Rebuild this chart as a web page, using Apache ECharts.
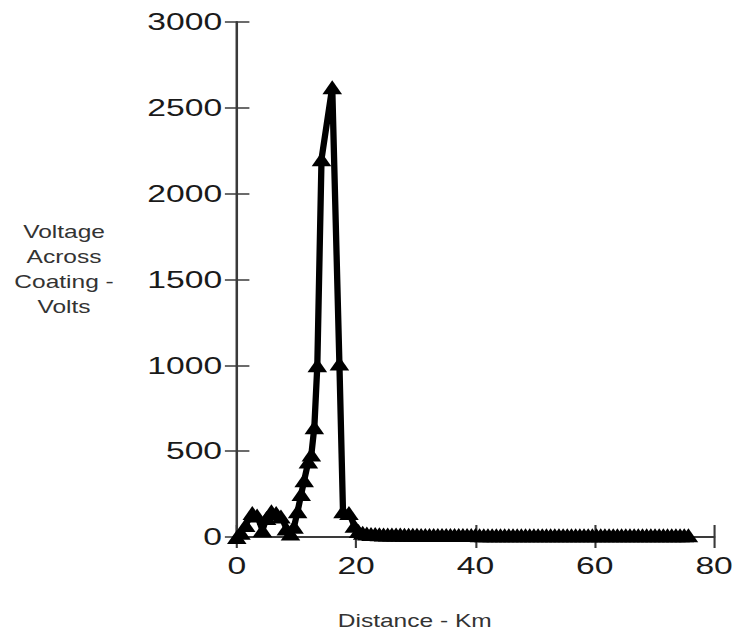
<!DOCTYPE html>
<html>
<head>
<meta charset="utf-8">
<script src="https://cdn.jsdelivr.net/npm/echarts@6/dist/echarts.min.js"></script>
<style>
  html, body { margin: 0; padding: 0; background: #fff; overflow: hidden; }
  /* the plot is laid out narrow and widened horizontally */
  #chart { width: 526px; height: 634px; transform: scaleX(1.4011); transform-origin: 0 0; }
</style>
</head>
<body>
<div id="chart"></div>
<script>
// Distance along the line (km) and the voltage across the coating (V)
const distanceKm = [
  0, 0.7, 1.5, 2.6, 3.4, 4.3, 5.0, 5.8, 6.6, 7.4, 8.3, 9.0, 9.6, 10.2, 10.8, 11.3,
  12.0, 12.5, 13.0, 13.5, 14.2, 16.0, 17.2, 17.8, 18.8, 19.7, 20.4, 21.1,
  21.8, 22.5, 23.2, 23.9, 24.6, 25.3, 26.0, 26.7, 27.4, 28.1, 28.8, 29.5, 30.2, 30.9,
  31.6, 32.3, 33.0, 33.7, 34.4, 35.1, 35.8, 36.5, 37.2, 37.9, 38.6, 39.3, 40.0, 40.7,
  41.4, 42.1, 42.8, 43.5, 44.2, 44.9, 45.6, 46.3, 47.0, 47.7, 48.4, 49.1, 49.8, 50.5,
  51.2, 51.9, 52.6, 53.3, 54.0, 54.7, 55.4, 56.1, 56.8, 57.5, 58.2, 58.9, 59.6, 60.3,
  61.0, 61.7, 62.4, 63.1, 63.8, 64.5, 65.2, 65.9, 66.6, 67.3, 68.0, 68.7, 69.4, 70.1,
  70.8, 71.5, 72.2, 72.9, 73.6, 74.3, 75.0, 75.7
];
const voltage = [
  0, 25, 70, 140, 125, 40, 110, 150, 140, 120, 50, 20, 60, 150, 250, 330,
  440, 480, 640, 1000, 2200, 2620, 1010, 150, 140, 65, 35, 25,
  20, 18, 17, 16, 15, 15, 14, 14, 14, 13, 13, 13, 13, 12,
  12, 12, 12, 12, 12, 11, 11, 11, 11, 11, 11, 11, 11, 10,
  10, 10, 10, 10, 10, 10, 10, 10, 10, 10, 10, 10, 10, 10,
  10, 10, 10, 10, 10, 10, 10, 10, 10, 10, 10, 10, 10, 10,
  10, 10, 10, 10, 10, 10, 10, 10, 10, 10, 10, 10, 10, 10,
  10, 10, 10, 10, 10, 10, 10, 10
];
const xTicks = { min: 0, max: 80, interval: 20 };
const yTicks = { min: 0, max: 3000, interval: 500 };
const xTitle = 'Distance - Km';
const yTitle = 'Voltage\nAcross\nCoating -\nVolts';

const chart = echarts.init(document.getElementById('chart'), null, { renderer: 'svg' });
const font = 'Liberation Sans, Arial, sans-serif';
const axisColor = '#3a3a3a';
const plain = v => String(v);

const points = distanceKm.map((d, i) => [d, voltage[i]]);

chart.setOption({
  animation: false,
  backgroundColor: '#fff',
  grid: { left: 169, right: 15, top: 22, bottom: 97 },
  xAxis: [
    {
      type: 'value', position: 'bottom', min: xTicks.min, max: xTicks.max, interval: xTicks.interval,
      axisLine: { show: true, onZero: false, lineStyle: { color: axisColor, width: 2 } },
      axisTick: { show: true, inside: false, length: 11, lineStyle: { color: axisColor, width: 1.5 } },
      axisLabel: { margin: 17, fontSize: 24, color: '#1a1a1a', fontFamily: font, formatter: plain },
      splitLine: { show: false }
    },
    {
      type: 'value', position: 'bottom', min: xTicks.min, max: xTicks.max, interval: xTicks.interval,
      axisLine: { show: false, onZero: false },
      axisTick: { show: true, inside: true, length: 12, lineStyle: { color: axisColor, width: 1.5 } },
      axisLabel: { show: false },
      splitLine: { show: false }
    }
  ],
  yAxis: [
    {
      type: 'value', position: 'left', min: yTicks.min, max: yTicks.max, interval: yTicks.interval,
      axisLine: { show: true, onZero: false, lineStyle: { color: axisColor, width: 1.8 } },
      axisTick: { show: true, inside: false, length: 8.5, lineStyle: { color: axisColor, width: 1.5 } },
      axisLabel: { margin: 10.5, fontSize: 24, color: '#1a1a1a', fontFamily: font, formatter: plain },
      splitLine: { show: false }
    },
    {
      type: 'value', position: 'left', min: yTicks.min, max: yTicks.max, interval: yTicks.interval,
      axisLine: { show: false, onZero: false },
      axisTick: { show: true, inside: true, length: 9, lineStyle: { color: axisColor, width: 1.5 } },
      axisLabel: { show: false },
      splitLine: { show: false }
    }
  ],
  graphic: [
    {
      type: 'text', silent: true, x: 296, y: 621,
      style: { text: xTitle, fontSize: 17.5, fontFamily: font, fill: '#333',
               align: 'center', verticalAlign: 'middle' }
    },
    {
      type: 'text', silent: true, x: 45.7, y: 270,
      style: { text: yTitle, fontSize: 17.5, lineHeight: 25, fontFamily: font, fill: '#333',
               align: 'center', verticalAlign: 'middle' }
    }
  ],
  series: [
    {
      type: 'line',
      xAxisIndex: 0,
      yAxisIndex: 0,
      data: points,
      clip: false,
      showAllSymbol: true,
      symbol: 'triangle',
      symbolSize: [14, 14],
      itemStyle: { color: '#000', borderWidth: 0 },
      lineStyle: { color: '#000', width: 4.5 },
      z: 5
    }
  ]
});
</script>
</body>
</html>
